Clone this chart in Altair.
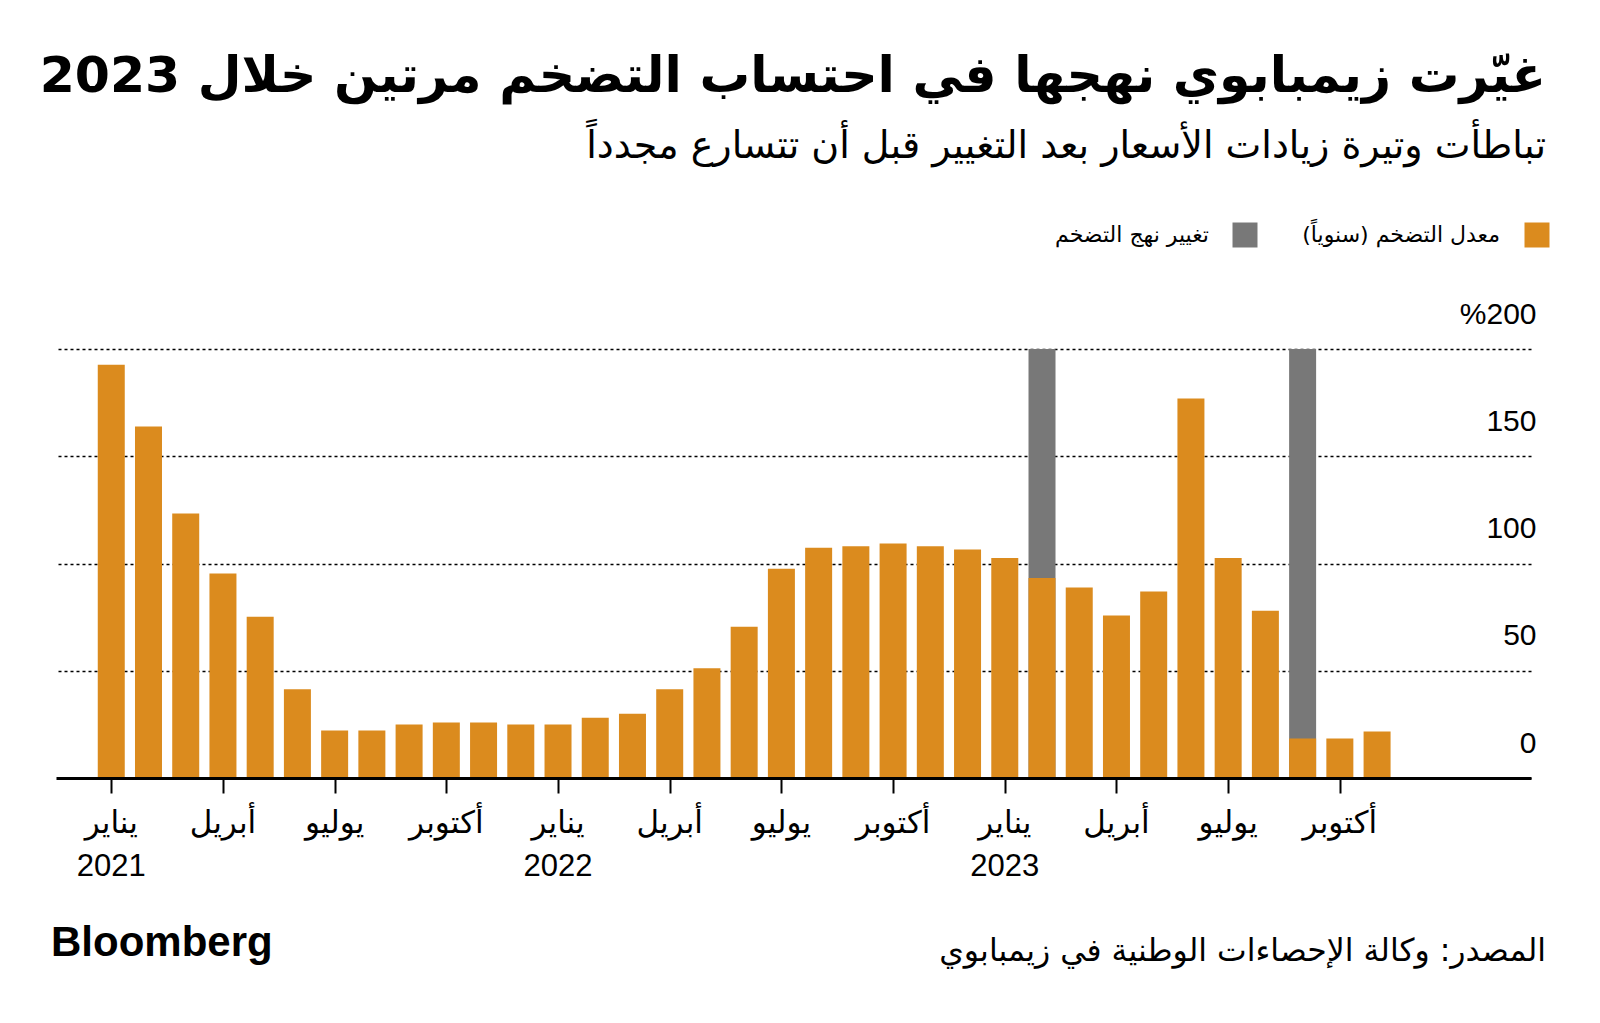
import altair as alt
import pandas as pd

# ---------------- data ----------------
months = ["2021-01", "2021-02", "2021-03", "2021-04", "2021-05", "2021-06",
          "2021-07", "2021-08", "2021-09", "2021-10", "2021-11", "2021-12",
          "2022-01", "2022-02", "2022-03", "2022-04", "2022-05", "2022-06",
          "2022-07", "2022-08", "2022-09", "2022-10", "2022-11", "2022-12",
          "2023-01", "2023-02", "2023-03", "2023-04", "2023-05", "2023-06",
          "2023-07", "2023-08", "2023-09", "2023-10", "2023-11"]
inflation = [192.6, 163.9, 123.3, 95.3, 75.2, 41.4, 22.2, 22.2, 25.0, 25.9, 25.9, 25.0,
             25.0, 28.1, 29.9, 41.4, 51.2, 70.5, 97.5, 107.3, 108.1, 109.3, 108.1, 106.5,
             102.6, 93.2, 88.8, 75.8, 87.0, 176.9, 102.6, 78.0, 18.4, 18.4, 21.7]
change_months = ["2023-02", "2023-09"]
change_values = [200, 200]

tick_months = ["2021-01", "2021-04", "2021-07", "2021-10",
               "2022-01", "2022-04", "2022-07", "2022-10",
               "2023-01", "2023-04", "2023-07", "2023-10"]
tick_names = ["يناير", "أبريل", "يوليو", "أكتوبر"] * 3
year_months = ["2021-01", "2022-01", "2023-01"]
year_labels = ["2021", "2022", "2023"]
y_ticks = [0, 50, 100, 150, 200]

RLM = "\u200f"
title_text = "غيّرت زيمبابوي نهجها في احتساب التضخم مرتين خلال 2023"
subtitle_text = "تباطأت وتيرة زيادات الأسعار بعد التغيير قبل أن تتسارع مجدداً"
legend_labels = ["معدل التضخم (سنوياً)", "تغيير نهج التضخم"]
legend_colors = ["#DB8B1E", "#787878"]
source_text = "المصدر: وكالة الإحصاءات الوطنية في زيمبابوي"
brand_text = "Bloomberg"

ORANGE, GRAY = legend_colors
AR_FONT = "DejaVu Sans"
NUM_FONT = "Liberation Sans"

idx = {m: i for i, m in enumerate(months)}
df = pd.DataFrame({"i": [idx[m] for m in months], "v": inflation})
df_change = pd.DataFrame({"i": [idx[m] for m in change_months], "v": change_values})
df_ticks = pd.DataFrame({"i": [idx[m] for m in tick_months], "t": tick_names})
df_years = pd.DataFrame({"i": [idx[m] for m in year_months], "t": year_labels})

W, H = 1475, 429

xs = alt.Scale(domain=[-1.35, 38.0], nice=False, zero=False)
ys = alt.Scale(domain=[0, 200], nice=False)

xaxis = alt.Axis(values=[idx[m] for m in tick_months], labels=False, ticks=True,
                 tickSize=15, tickWidth=2, tickColor="#000", domainColor="#000",
                 domainWidth=3, grid=False, title=None, zindex=1)
yaxis = alt.Axis(orient="right", values=y_ticks,
                 labelExpr="datum.value == 200 ? '%200' : datum.label",
                 domain=False, ticks=False, grid=True, gridDash=[3, 3],
                 gridColor="#000", gridWidth=1.3, labelAlign="right",
                 labelPadding=5, labelBaseline="middle", labelOffset=-35,
                 labelFontSize=30, labelFont=NUM_FONT, labelColor="#000",
                 labelFlush=False, labelOverlap=False, title=None)

gray_bars = alt.Chart(df_change).mark_bar(size=27, color=GRAY).encode(
    x=alt.X("i:Q", scale=xs, axis=xaxis),
    y=alt.Y("v:Q", scale=ys, axis=yaxis),
)
bars = alt.Chart(df).mark_bar(size=27, color=ORANGE).encode(
    x=alt.X("i:Q", scale=xs, axis=xaxis),
    y=alt.Y("v:Q", scale=ys, axis=yaxis),
)

month_text = alt.Chart(df_ticks).mark_text(
    font=AR_FONT, fontSize=31, baseline="middle", align="center", color="#000"
).encode(x=alt.X("i:Q", scale=xs), y=alt.value(475), text="t:N")

year_text = alt.Chart(df_years).mark_text(
    font=NUM_FONT, fontSize=31, baseline="middle", align="center", color="#000"
).encode(x=alt.X("i:Q", scale=xs), y=alt.value(518), text="t:N")


def label(text, x, y, size, font, weight="normal", align="right", baseline="alphabetic"):
    return alt.Chart(pd.DataFrame({"t": [text]})).mark_text(
        font=font, fontSize=size, fontWeight=weight, align=align,
        baseline=baseline, color="#000"
    ).encode(x=alt.value(x), y=alt.value(y), text="t:N")


def square(color, x, y):
    return alt.Chart(pd.DataFrame({"c": [color]})).mark_square(
        size=625, filled=True, opacity=1, color=color
    ).encode(x=alt.value(x), y=alt.value(y))


title = label(title_text, 1490, -257, 50.5, AR_FONT, weight="bold")
subtitle = label(RLM + subtitle_text + RLM, 1490, -191, 38, AR_FONT)
leg1_sq = square(legend_colors[0], 1481, -114)
leg1_tx = label(RLM + legend_labels[0] + RLM, 1444, -114, 22, AR_FONT, baseline="middle")
leg2_sq = square(legend_colors[1], 1189, -114)
leg2_tx = label(RLM + legend_labels[1] + RLM, 1153, -114, 22, AR_FONT, baseline="middle")
brand = label(brand_text, -5, 607, 42, NUM_FONT, weight="bold", align="left")
source = label(RLM + source_text + RLM, 1490, 612, 31.5, AR_FONT)

chart = alt.layer(
    gray_bars, bars, month_text, year_text,
    title, subtitle, leg1_sq, leg1_tx, leg2_sq, leg2_tx, brand, source
).properties(
    width=W, height=H,
    padding={"left": 48, "top": 341, "right": 60, "bottom": 235},
    autosize=alt.AutoSizeParams(type="none"),
    background="#ffffff",
).configure_view(stroke=None)

chart.save("out.html", embed_options={"renderer": "svg", "actions": False})
